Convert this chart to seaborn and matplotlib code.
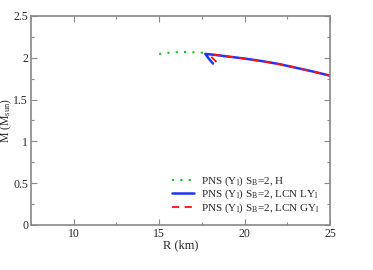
import matplotlib
matplotlib.use("Agg")
import matplotlib.pyplot as plt
from matplotlib.ticker import MultipleLocator, FormatStrFormatter
import pandas as pd
import seaborn as sns

# Mass-radius curves
r_h = [15.0, 15.5, 16.0, 16.5, 17.0, 17.5, 17.8]
m_h = [2.045, 2.058, 2.066, 2.068, 2.065, 2.06, 2.055]

r_ly = [18.15, 17.9, 17.7, 18.0, 19.0, 20.0, 21.0, 22.0, 23.0, 24.0, 25.0]
m_ly = [1.93, 1.99, 2.045, 2.04, 2.015, 1.99, 1.96, 1.925, 1.88, 1.835, 1.785]

r_gy = [18.35, 18.1, 18.0, 18.3, 19.0, 20.0, 21.0, 22.0, 23.0, 24.0, 25.0]
m_gy = [1.95, 2.0, 2.035, 2.035, 2.015, 1.99, 1.96, 1.925, 1.88, 1.835, 1.785]

labels = [
    r"PNS (Y$_\mathregular{l}$) S$_\mathregular{B}$=2, H",
    r"PNS (Y$_\mathregular{l}$) S$_\mathregular{B}$=2, LCN LY$_\mathregular{l}$",
    r"PNS (Y$_\mathregular{l}$) S$_\mathregular{B}$=2, LCN GY$_\mathregular{l}$",
]

sns.set_style("ticks")
plt.rcParams["font.family"] = ["Liberation Serif", "DejaVu Serif"]
plt.rcParams["mathtext.fontset"] = "stix"

fig = plt.figure(figsize=(3.73, 2.70), dpi=100)
ax = fig.add_axes([0.083, 0.167, 0.802, 0.774])

df_h = pd.DataFrame({"R": r_h, "M": m_h})
df_ly = pd.DataFrame({"R": r_ly, "M": m_ly})
df_gy = pd.DataFrame({"R": r_gy, "M": m_gy})

sns.lineplot(data=df_h, x="R", y="M", sort=False, estimator=None, ax=ax,
             color="#22bb22", lw=1.5, linestyle=(0, (1, 3)), label=labels[0])
sns.lineplot(data=df_ly, x="R", y="M", sort=False, estimator=None, ax=ax,
             color="#2233ff", lw=1.8, label=labels[1])
sns.lineplot(data=df_gy, x="R", y="M", sort=False, estimator=None, ax=ax,
             color="#ff1111", lw=1.3, linestyle=(0, (4, 3)), label=labels[2])

ax.set_xlim(7.5, 25)
ax.set_ylim(0, 2.5)
ax.xaxis.set_major_locator(MultipleLocator(5))
ax.xaxis.set_minor_locator(MultipleLocator(2.5))
ax.yaxis.set_major_locator(MultipleLocator(0.5))
ax.yaxis.set_minor_locator(MultipleLocator(0.25))
ax.yaxis.set_major_formatter(FormatStrFormatter("%g"))
ax.tick_params(which="both", direction="in", top=True, right=True,
               color="#888888", labelsize=8.5, pad=2)
ax.tick_params(which="major", length=4, width=0.8)
ax.tick_params(which="minor", length=2, width=0.8)
for s in ax.spines.values():
    s.set_color("#888888")
    s.set_linewidth(1.2)

ax.set_xlabel("R (km)", fontsize=9, labelpad=0)
ax.set_ylabel(r"M (M$_\mathregular{sun}$)", fontsize=8.5)
ax.yaxis.set_label_coords(-0.056, 0.5)

ax.legend(loc="lower right", bbox_to_anchor=(1.0, 0.0), frameon=False,
          fontsize=8, handlelength=2.0, handletextpad=0.6, labelspacing=0.0)

fig.savefig("out.png", dpi=100)
